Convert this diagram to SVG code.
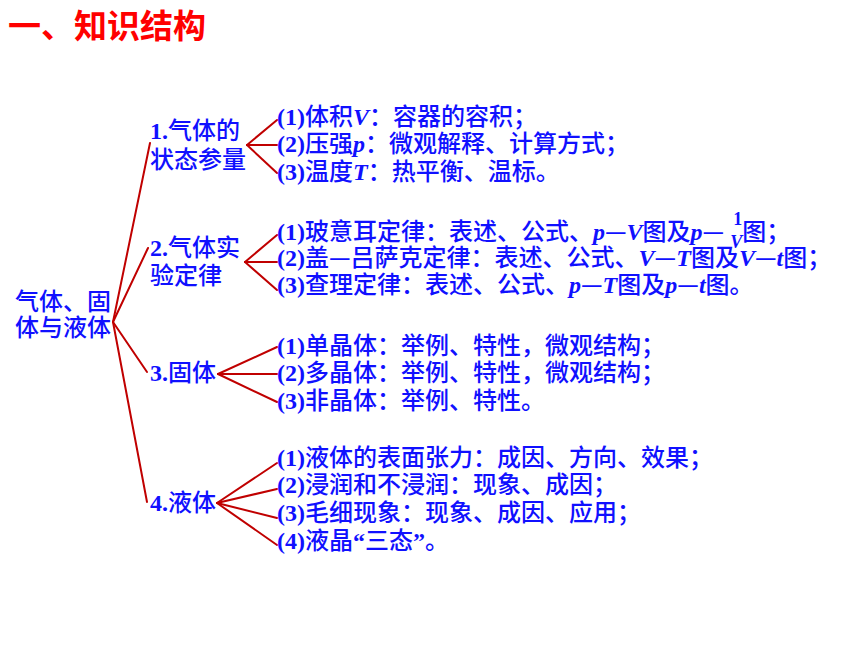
<svg xmlns="http://www.w3.org/2000/svg" width="860" height="645" viewBox="0 0 860 645">
<style>
.t{font-family:"Noto Sans CJK SC","Noto Sans",sans-serif;font-size:24px;font-weight:500;fill:#1010FF;}
.r{font-family:"Liberation Serif",serif;font-weight:bold;}
.i{font-family:"Liberation Serif",serif;font-weight:bold;font-style:italic;}
.f{font-size:18px;}
.title{font-family:"Noto Sans CJK SC",sans-serif;font-size:33px;font-weight:bold;fill:#FF0000;}
.c line{stroke:#C00000;stroke-width:2;stroke-linecap:round;}
</style>
<rect width="860" height="645" fill="#FFFFFF"/>
<text class="title" x="8" y="38">一、知识结构</text>
<g class="c" id="connectors">
<line x1="113" y1="322" x2="150" y2="143"/>
<line x1="113" y1="322" x2="148" y2="248"/>
<line x1="113" y1="322" x2="147" y2="372"/>
<line x1="113" y1="322" x2="147" y2="502"/>
<line x1="247" y1="145" x2="277" y2="120"/>
<line x1="247" y1="145" x2="277" y2="145"/>
<line x1="247" y1="145" x2="277" y2="173"/>
<line x1="245" y1="262" x2="277" y2="235"/>
<line x1="245" y1="262" x2="277" y2="262"/>
<line x1="245" y1="262" x2="277" y2="290"/>
<line x1="218" y1="374" x2="277" y2="347"/>
<line x1="218" y1="374" x2="277" y2="374"/>
<line x1="218" y1="374" x2="277" y2="402"/>
<line x1="217" y1="503" x2="277" y2="463"/>
<line x1="217" y1="503" x2="277" y2="489"/>
<line x1="217" y1="503" x2="277" y2="518"/>
<line x1="217" y1="503" x2="277" y2="545"/>
</g>
<g id="root">
<text class="t" x="15" y="310">气体、固</text>
<text class="t" x="15" y="336">体与液体</text>
</g>
<g id="n1">
<text class="t" x="150" y="139"><tspan class="r">1.</tspan>气体的</text>
<text class="t" x="150" y="168">状态参量</text>
</g>
<g id="n2">
<text class="t" x="150" y="256"><tspan class="r">2.</tspan>气体实</text>
<text class="t" x="150" y="284">验定律</text>
</g>
<g id="n3">
<text class="t" x="150" y="381"><tspan class="r">3.</tspan>固体</text>
</g>
<g id="n4">
<text class="t" x="150" y="511"><tspan class="r">4.</tspan>液体</text>
</g>
<g id="l1">
<text class="t" x="277" y="125"><tspan class="r">(1)</tspan>体积<tspan class="i">V</tspan>：容器的容积；</text>
<text class="t" x="277" y="152"><tspan class="r">(2)</tspan>压强<tspan class="i">p</tspan>：微观解释、计算方式；</text>
<text class="t" x="277" y="180"><tspan class="r">(3)</tspan>温度<tspan class="i">T</tspan>：热平衡、温标。</text>
</g>
<g id="l2">
<text class="t" x="277" y="240"><tspan class="r">(1)</tspan>玻意耳定律：表述、公式、<tspan class="i">p</tspan>—<tspan class="i">V</tspan>图及<tspan class="i">p</tspan>—<tspan class="r f" dx="9" dy="-15">1</tspan><tspan class="i f" dx="-12" dy="23">V</tspan><tspan dx="0" dy="-8">图；</tspan></text>
<text class="t" x="277" y="266"><tspan class="r">(2)</tspan>盖—吕萨克定律：表述、公式、<tspan class="i">V</tspan>—<tspan class="i">T</tspan>图及<tspan class="i">V</tspan>—<tspan class="i">t</tspan>图；</text>
<text class="t" x="277" y="293"><tspan class="r">(3)</tspan>查理定律：表述、公式、<tspan class="i">p</tspan>—<tspan class="i">T</tspan>图及<tspan class="i">p</tspan>—<tspan class="i">t</tspan>图。</text>
</g>
<g id="l3">
<text class="t" x="277" y="354"><tspan class="r">(1)</tspan>单晶体：举例、特性，微观结构；</text>
<text class="t" x="277" y="381"><tspan class="r">(2)</tspan>多晶体：举例、特性，微观结构；</text>
<text class="t" x="277" y="409"><tspan class="r">(3)</tspan>非晶体：举例、特性。</text>
</g>
<g id="l4">
<text class="t" x="277" y="466"><tspan class="r">(1)</tspan>液体的表面张力：成因、方向、效果；</text>
<text class="t" x="277" y="493"><tspan class="r">(2)</tspan>浸润和不浸润：现象、成因；</text>
<text class="t" x="277" y="521"><tspan class="r">(3)</tspan>毛细现象：现象、成因、应用；</text>
<text class="t" x="277" y="549"><tspan class="r">(4)</tspan>液晶<tspan class="r">“</tspan>三态<tspan class="r">”</tspan>。</text>
</g>
</svg>
